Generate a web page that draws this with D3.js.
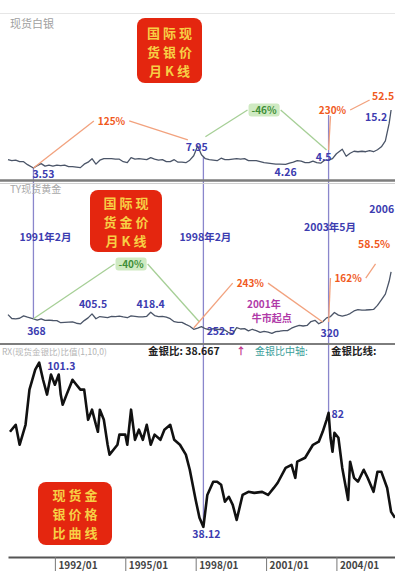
<!DOCTYPE html>
<html><head><meta charset="utf-8">
<script src="https://cdn.jsdelivr.net/npm/d3@7"></script>
<style>body{margin:0;background:#fff}svg{display:block;font-family:"Noto Sans CJK SC","Noto Sans",sans-serif}</style>
</head><body><svg id="c" width="395" height="575"></svg>
<script>
// ---------- data ----------
const silverDates=["1990-01","1990-03","1990-05","1990-07","1990-09","1990-11","1991-02","1991-04","1991-06","1991-08","1991-10","1991-12","1992-02","1992-04","1992-06","1992-08","1992-10","1992-12","1993-02","1993-04","1993-06","1993-08","1993-10","1993-12","1994-02","1994-04","1994-06","1994-08","1994-10","1994-12","1995-02","1995-04","1995-06","1995-08","1995-10","1995-12","1996-02","1996-04","1996-06","1996-08","1996-10","1996-12","1997-02","1997-04","1997-06","1997-08","1997-10","1997-12","1998-02","1998-04","1998-06","1998-08","1998-10","1998-12","1999-02","1999-04","1999-06","1999-08","1999-10","1999-12","2000-02","2000-04","2000-06","2000-08","2000-10","2000-12","2001-02","2001-04","2001-06","2001-08","2001-11","2002-01","2002-03","2002-05","2002-07","2002-09","2002-11","2003-01","2003-03","2003-05","2003-07","2003-09","2003-11","2004-01","2004-04","2004-06","2004-08","2004-10","2004-12","2005-02","2005-04","2005-06","2005-08","2005-10","2005-12","2006-02","2006-04","2006-05"];
const silverValues=[5.2,5.0,5.1,4.8,4.8,4.2,3.53,4.0,4.4,3.9,4.1,3.9,4.1,4.0,4.1,3.8,3.8,3.7,3.6,4.3,4.7,5.4,4.3,5.1,5.4,5.4,5.4,5.3,5.3,4.8,4.6,5.6,5.3,5.4,5.3,5.2,5.6,5.3,5.1,5.2,4.8,4.8,5.2,4.7,4.7,4.6,5.1,6.0,7.95,6.2,5.4,5.2,5.1,5.0,5.5,5.2,5.2,5.3,5.4,5.3,5.4,5.0,5.0,5.0,4.8,4.6,4.5,4.4,4.3,4.3,4.26,4.5,4.7,5.0,4.9,4.6,4.6,4.9,4.6,4.5,5.1,5.1,5.4,6.4,7.3,5.9,6.5,6.9,6.8,6.9,6.8,7.0,6.8,7.2,7.8,9.0,12.5,15.2];

const goldDates=["1990-01","1990-03","1990-05","1990-07","1990-09","1990-11","1991-02","1991-04","1991-06","1991-08","1991-10","1991-12","1992-02","1992-04","1992-06","1992-08","1992-10","1992-12","1993-02","1993-04","1993-06","1993-08","1993-10","1993-12","1994-02","1994-04","1994-06","1994-08","1994-10","1994-12","1995-02","1995-04","1995-06","1995-08","1995-10","1995-12","1996-02","1996-04","1996-06","1996-08","1996-10","1996-12","1997-02","1997-04","1997-06","1997-08","1997-10","1997-12","1998-02","1998-04","1998-06","1998-08","1998-10","1998-12","1999-02","1999-04","1999-06","1999-08","1999-10","1999-12","2000-02","2000-04","2000-06","2000-08","2000-10","2000-12","2001-02","2001-04","2001-06","2001-08","2001-10","2001-12","2002-02","2002-04","2002-06","2002-08","2002-10","2002-12","2003-02","2003-04","2003-06","2003-08","2003-10","2003-12","2004-02","2004-04","2004-06","2004-08","2004-10","2004-12","2005-02","2005-04","2005-06","2005-08","2005-10","2005-12","2006-02","2006-04","2006-05"];
const goldValues=[400,370,368,372,390,380,368,357,368,356,358,355,354,338,340,342,344,334,329,354,375,405.5,368,385,381,377,386,385,389,382,376,390,387,383,383,387,418.4,393,385,387,381,369,346,340,340,325,311,288,297,308,292,284,292,288,286,282,262,252.5,300,290,293,276,288,277,264,272,266,256,270,273,278,278,296,308,318,313,317,347,356,330,346,375,385,416,396,388,395,408,428,438,434,435,437,439,470,513,556,654,725];

const ratioDates=["1990-02","1990-05","1990-07","1990-10","1990-12","1991-03","1991-05","1991-07","1991-09","1991-11","1992-01","1992-03","1992-04","1992-05","1992-07","1992-09","1992-10","1992-12","1993-02","1993-04","1993-06","1993-08","1993-10","1993-11","1993-12","1994-02","1994-04","1994-05","1994-07","1994-09","1994-10","1995-01","1995-02","1995-04","1995-06","1995-08","1995-10","1995-12","1996-02","1996-04","1996-07","1996-09","1996-12","1997-02","1997-05","1997-08","1997-10","1998-01","1998-03","1998-05","1998-07","1998-10","1998-12","1999-02","1999-04","1999-06","1999-08","1999-10","2000-01","2000-04","2000-07","2000-11","2001-02","2001-05","2001-07","2001-11","2002-02","2002-04","2002-05","2002-09","2003-01","2003-04","2003-06","2003-08","2003-09","2003-10","2003-11","2003-12","2004-02","2004-04","2004-07","2004-08","2004-10","2004-12","2005-03","2005-05","2005-08","2005-10","2005-12","2006-03","2006-05","2006-07"];
const ratioValues=[74.7,77.4,69.7,77.4,90.9,98.6,101.3,94.7,89.0,96.7,92.8,96.7,89.0,85.1,89.0,92.8,94.7,92.8,90.9,90.9,79.3,83.2,77.4,74.7,83.2,79.3,69.7,65.9,67.8,69.7,73.6,73.6,69.7,83.2,71.6,75.5,71.6,77.4,69.7,73.6,71.6,75.5,77.4,71.6,69.7,65.9,60.1,48.5,41.6,38.12,50.4,55.5,55.5,54.3,47.8,49.7,46.6,40.8,50.4,51.6,51.2,51.6,50.4,53.1,55.1,60.8,62.0,57.0,63.2,64.7,69.7,70.9,74.7,79.3,82,72.4,67.0,74.3,72.4,60.8,48.5,63.2,57.0,55.5,60.1,57.0,51.6,59.3,59.3,53.1,43.9,41.6];

const tickDates=["1992-01","1995-01","1998-01","2001-01","2004-01"];
const tickLabels=["1992/01","1995/01","1998/01","2001/01","2004/01"];

const panelTitles=["现货白银","TY现货黄金"];
const boxTexts=[["国际现","货银价","月K线"],["国际现","货金价","月K线"],["现货金","银价格","比曲线"]];

// annotations (in data space)
const humps=[
 {panel:"silver",label:"125%",kind:"orange",from:["1991-02",3.53],peak:["1994-06",13.0],to:["1997-09",9.2]},
 {panel:"silver",label:"-46%",kind:"green",from:["1998-06",9.8],peak:["2000-12",15.2],to:["2003-08",7.15]},
 {panel:"silver",label:"230%",kind:"orange",from:["2003-09",7.15],peak:["2003-11",15.2],to:["2005-06",17.2],joinBottom:true},
 {panel:"gold",label:"-40%",kind:"green",from:["1991-02",368],peak:["1995-04",786],to:["1998-03",343]},
 {panel:"gold",label:"243%",kind:"orange",from:["1997-12",298],peak:["2000-05",640],to:["2003-06",343]},
 {panel:"gold",label:"162%",kind:"orange",from:["2003-09",343],peak:["2004-07",679],to:["2005-09",786]}
];
const notes=[
 {panel:"silver",text:"3.53",date:"1991-02",value:3.53,dx:-1,dy:10,anchor:"start",kind:"blue"},
 {panel:"silver",text:"7.95",date:"1998-02",value:7.95,dx:-12,dy:5,anchor:"start",kind:"blue"},
 {panel:"silver",text:"4.26",date:"2001-11",value:4.26,dx:0,dy:12,anchor:"middle",kind:"blue"},
 {panel:"silver",text:"4.5",date:"2003-05",value:4.5,dx:3,dy:-2,anchor:"middle",kind:"blue"},
 {panel:"silver",text:"15.2",date:"2006-05",value:15.2,dx:-26,dy:11,anchor:"start",kind:"blue"},
 {panel:"silver",text:"52.5",date:"2006-05",value:15.2,dx:-19,dy:-10,anchor:"start",kind:"orange"},
 {panel:"gold",text:"368",date:"1991-02",value:368,dx:3,dy:16,anchor:"middle",kind:"blue"},
 {panel:"gold",text:"405.5",date:"1993-08",value:405.5,dx:1,dy:-6,anchor:"middle",kind:"blue"},
 {panel:"gold",text:"418.4",date:"1996-02",value:418.4,dx:0,dy:-4,anchor:"middle",kind:"blue"},
 {panel:"gold",text:"252.5",date:"1999-08",value:252.5,dx:-12,dy:1,anchor:"middle",kind:"blue"},
 {panel:"gold",text:"320",date:"2003-04",value:330,dx:11,dy:13,anchor:"middle",kind:"blue"},
 {panel:"gold",text:"1991年2月",date:"1991-02",value:961,dx:12,dy:0,anchor:"middle",kind:"blue"},
 {panel:"gold",text:"1998年2月",date:"1998-05",value:961,dx:2,dy:0,anchor:"middle",kind:"blue"},
 {panel:"gold",text:"2003年5月",date:"2003-09",value:1037,dx:1.5,dy:0,anchor:"middle",kind:"blue"},
 {panel:"gold",text:"2006",date:"2006-05",value:725,dx:3,dy:-59,anchor:"end",kind:"blue"},
 {panel:"gold",text:"58.5%",date:"2006-05",value:725,dx:-33,dy:-24,anchor:"start",kind:"orange"},
 {panel:"gold",text:"2001年",date:"2001-04",value:256,dx:-8,dy:-25.5,anchor:"middle",kind:"purple"},
 {panel:"gold",text:"牛市起点",date:"2001-04",value:256,dx:0,dy:-11,anchor:"middle",kind:"purple"},
 {panel:"ratio",text:"101.3",date:"1991-05",value:101.3,dx:8,dy:7,anchor:"start",kind:"blue"},
 {panel:"ratio",text:"38.12",date:"1998-05",value:38.12,dx:3,dy:11,anchor:"middle",kind:"blue"},
 {panel:"ratio",text:"82",date:"2003-09",value:82,dx:3,dy:5,anchor:"start",kind:"blue"}
];
const verticals=[
 {date:"1991-02",top:["silver",3.53],bottom:["gold",368]},
 {date:"1998-05",top:["silver",5.8],bottom:["ratio",38.12]},
 {date:"2003-09",top:["silver",14.2],bottom:["ratio",82]}
];

// ---------- drawing ----------
const svg=d3.select("#c");
const P=d3.timeParse("%Y-%m");
const x=d3.scaleTime().domain([P("1990-01"),P("2006-07")]).range([8,395]);
const Y={
 silver:d3.scaleLinear().domain([2,16]).range([175.6,106]),
 gold:d3.scaleLinear().domain([200,760]).range([340.8,267.4]),
 ratio:d3.scaleLinear().domain([30,105]).range([548,353])
};
const COL={blue:"#3c3cb0",orange:"#f05a1e",green:"#3f8f38",purple:"#b03aa8"};
const LINE={orange:"#f2a27e",green:"#a6cf96"};

svg.append("line").attr("x1",0).attr("x2",395).attr("y1",13.5).attr("y2",13.5).attr("stroke","#e6e6e6");

// vertical marker lines
verticals.forEach(v=>{
 svg.append("line").attr("x1",x(P(v.date))).attr("x2",x(P(v.date)))
  .attr("y1",Y[v.top[0]](v.top[1])).attr("y2",Y[v.bottom[0]](v.bottom[1]))
  .attr("stroke","#8a86cc").attr("stroke-width",1.3);
});

// red boxes
const boxes=[{x:137,y:18,w:65,h:65,fs:13,top:38,lh:19},{x:90,y:190,w:72,h:62,fs:13,top:208,lh:19},{x:38,y:482,w:74,h:63,fs:13,top:500,lh:19}];
boxes.forEach((b,i)=>{
 svg.append("rect").attr("x",b.x).attr("y",b.y).attr("width",b.w).attr("height",b.h).attr("rx",8).attr("fill","#e4260f");
 boxTexts[i].forEach((r,j)=>svg.append("text").attr("x",b.x+b.w/2+1.5).attr("y",b.top+j*b.lh).attr("text-anchor","middle")
  .attr("font-size",b.fs).attr("font-weight","bold").attr("letter-spacing",3).attr("fill","#f7cf45").text(r));
});

// series
function series(dates,vals,y,color,w){
 const data=dates.map((d,i)=>({t:P(d),v:vals[i]}));
 svg.append("path").datum(data).attr("fill","none").attr("stroke",color).attr("stroke-width",w)
  .attr("stroke-linejoin","round").attr("d",d3.line().x(d=>x(d.t)).y(d=>y(d.v)));
}
series(silverDates,silverValues,Y.silver,"#4b5568",1.3);
series(goldDates,goldValues,Y.gold,"#4b5568",1.3);
series(ratioDates,ratioValues,Y.ratio,"#111",2.6);

// humps
humps.forEach(h=>{
 const y=Y[h.panel];
 const p0=[x(P(h.from[0])),y(h.from[1])],pk=[x(P(h.peak[0])),y(h.peak[1])],p1=[x(P(h.to[0])),y(h.to[1])];
 const g=svg.append("g");
 const t=g.append("text").attr("x",pk[0]).attr("y",pk[1]+4).attr("text-anchor","middle")
  .attr("font-size",10).attr("font-weight","bold").attr("fill",COL[h.kind]).text(h.label);
 const w=t.node().getComputedTextLength();
 if(h.kind==="green") g.insert("rect","text").attr("x",pk[0]-w/2-3).attr("y",pk[1]-6.5).attr("width",w+6).attr("height",13).attr("rx",3).attr("fill","#cfeac2");
 const jl=h.joinBottom?[pk[0]-2,pk[1]+6]:[pk[0]-w/2-4,pk[1]];
 const jr=[pk[0]+w/2+4,pk[1]];
 g.insert("line","rect").attr("x1",p0[0]).attr("y1",p0[1]).attr("x2",jl[0]).attr("y2",jl[1]).attr("stroke",LINE[h.kind]).attr("stroke-width",1.3);
 g.insert("line","rect").attr("x1",jr[0]).attr("y1",jr[1]).attr("x2",p1[0]).attr("y2",p1[1]).attr("stroke",LINE[h.kind]).attr("stroke-width",1.3);
});

// notes
notes.forEach(n=>{
 svg.append("text").attr("x",x(P(n.date))+n.dx).attr("y",Y[n.panel](n.value)+n.dy)
  .attr("text-anchor",n.anchor).attr("font-size",n.kind==="purple"?10:10.5).attr("font-weight","bold")
  .attr("fill",COL[n.kind]).text(n.text);
});

// panel titles
svg.append("text").attr("x",10).attr("y",28).attr("font-size",11).attr("fill","#a0a0a0").text(panelTitles[0]);
svg.append("text").attr("x",10).attr("y",193).attr("font-size",10).attr("fill","#a8a8a8").text(panelTitles[1]);

// separators
svg.append("line").attr("x1",0).attr("x2",395).attr("y1",180.5).attr("y2",180.5).attr("stroke","#7d7d7d").attr("stroke-width",2.5);
svg.append("line").attr("x1",0).attr("x2",395).attr("y1",183.5).attr("y2",183.5).attr("stroke","#cfcfcf").attr("stroke-width",1);
svg.append("line").attr("x1",0).attr("x2",395).attr("y1",344).attr("y2",344).attr("stroke","#7d7d7d").attr("stroke-width",2);

// ratio header
svg.append("text").attr("x",2).attr("y",355).attr("font-size",8.5).attr("fill","#b4b4b4").text("RX(现货金银比)比值(1,10,0)");
svg.append("text").attr("x",148).attr("y",355).attr("font-size",10.5).attr("font-weight","bold").attr("fill","#222").text("金银比: 38.667");
svg.append("text").attr("x",236).attr("y",355).attr("font-size",10).attr("font-weight","bold").attr("fill","#c0308a").text("↑");
svg.append("text").attr("x",255).attr("y",355).attr("font-size",10).attr("fill","#3a9e9a").text("金银比中轴:");
svg.append("text").attr("x",331).attr("y",355).attr("font-size",10.5).attr("font-weight","bold").attr("fill","#222").text("金银比线:");

// x axis
const ax=svg.append("g").attr("transform","translate(0,557)")
 .call(d3.axisBottom(x).tickValues(tickDates.map(P)).tickFormat((d,i)=>tickLabels[i]).tickSize(14).tickSizeOuter(0));
ax.select(".domain").attr("stroke","#555").attr("stroke-width",2);
ax.selectAll(".tick line").attr("stroke","#777");
ax.selectAll(".tick text").attr("text-anchor","start").attr("x",3).attr("y",5).attr("dy","0.71em")
 .attr("font-size",10).attr("font-weight","bold").attr("fill","#444").attr("font-family","'Noto Sans CJK SC',sans-serif");
</script></body></html>
